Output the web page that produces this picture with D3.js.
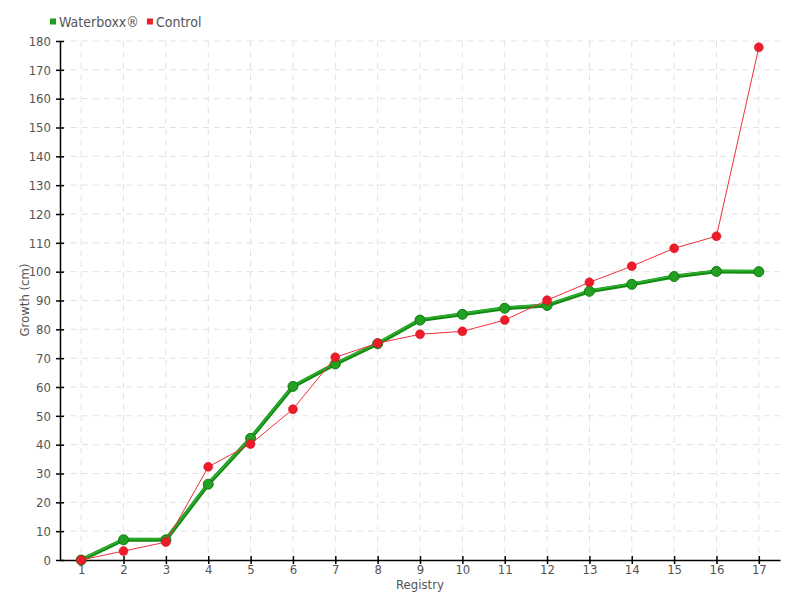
<!DOCTYPE html>
<html><head><meta charset="utf-8">
<script src="https://cdn.jsdelivr.net/npm/d3@7"></script>
<style>
body{margin:0;background:#fff;}
text{font-family:"DejaVu Sans Condensed","Liberation Sans Narrow","Roboto",sans-serif;font-stretch:condensed;}
</style></head>
<body><svg id="c" width="800" height="600"></svg>
<script>
const registry = [1,2,3,4,5,6,7,8,9,10,11,12,13,14,15,16,17];
const waterboxx = [0,7,7,26.3,42.2,60.2,68,75,83.2,85.2,87.3,88.3,93.2,95.6,98.3,100.1,100];
const control = [0,3.1,6.2,32.3,40.2,52.3,70.3,75.2,78.3,79.3,83.2,90.1,96.3,101.9,108.1,112.3,177.8];
const yTicks = [0,10,20,30,40,50,60,70,80,90,100,110,120,130,140,150,160,170,180];
const seriesNames = ["Waterboxx®","Control"];

const svg = d3.select("#c");
const x = d3.scaleLinear().domain([0.5,17.5]).range([60,780]);
const y = d3.scaleLinear().domain([0,180]).range([560,41]);
const green = "#1e9e1e", red = "#ec1c2a";

// grid
svg.append("g").selectAll("line").data(yTicks.slice(1)).join("line")
 .attr("x1",60).attr("x2",780).attr("y1",d=>y(d)).attr("y2",d=>y(d))
 .attr("stroke","#e2e2e2").attr("stroke-dasharray","6,5").attr("stroke-width",1);
svg.append("g").selectAll("line").data(registry).join("line")
 .attr("x1",d=>x(d)).attr("x2",d=>x(d)).attr("y1",41).attr("y2",560)
 .attr("stroke","#e2e2e2").attr("stroke-dasharray","6,5").attr("stroke-width",1);

// axes
const yAxis = d3.axisLeft(y).tickValues(yTicks).tickSize(4).tickPadding(5).tickSizeOuter(0);
const gy = svg.append("g").attr("transform","translate(60,0)").call(yAxis);
gy.selectAll(".tick line").attr("x2",-4).attr("x1",4).attr("stroke","#000").attr("stroke-width",1.5);
gy.select(".domain").attr("stroke","#000").attr("stroke-width",1.5);
gy.selectAll("text").attr("font-size",13).attr("fill","#555");

const xAxis = d3.axisBottom(x).tickValues(registry).tickSize(4).tickPadding(1).tickSizeOuter(0);
const gx = svg.append("g").attr("transform","translate(0,560)").call(xAxis);
gx.selectAll(".tick line").attr("y1",-4).attr("y2",4).attr("stroke","#000").attr("stroke-width",1.5);
gx.select(".domain").attr("stroke","#000").attr("stroke-width",1.5);
gx.selectAll("text").attr("font-size",13).attr("fill","#555");

// axis titles
svg.append("text").attr("x",420).attr("y",589).attr("text-anchor","middle")
 .attr("font-size",13).attr("fill","#555").text("Registry");
svg.append("text").attr("transform","translate(29,300) rotate(-90)").attr("text-anchor","middle")
 .attr("font-size",13).attr("fill","#555").text("Growth (cm)");

// lines
const line = d3.line().x((d,i)=>x(registry[i])).y(d=>y(d));
svg.append("path").datum(waterboxx).attr("d",line).attr("fill","none")
 .attr("stroke","#138a13").attr("stroke-width",4).attr("stroke-linejoin","round");
svg.append("path").datum(waterboxx).attr("d",line).attr("fill","none")
 .attr("stroke","#2fb32f").attr("stroke-width",1.5).attr("transform","translate(0,-0.8)");
svg.append("g").selectAll("circle").data(waterboxx).join("circle")
 .attr("cx",(d,i)=>x(registry[i])).attr("cy",d=>y(d)).attr("r",5)
 .attr("fill","#21a021").attr("stroke","#137a13").attr("stroke-width",1);

svg.append("path").datum(control).attr("d",line).attr("fill","none")
 .attr("stroke","#f0303c").attr("stroke-width",1);
svg.append("g").selectAll("circle").data(control).join("circle")
 .attr("cx",(d,i)=>x(registry[i])).attr("cy",d=>y(d)).attr("r",4.5)
 .attr("fill",red).attr("stroke","#d01020").attr("stroke-width",0.5);

// legend
const leg = svg.append("g");
let lx = 50;
[green,red].forEach((c,i)=>{
  leg.append("rect").attr("x",lx).attr("y",18.5).attr("width",6).attr("height",6).attr("fill",c);
  const t = leg.append("text").attr("x",lx+9).attr("y",26.5).attr("font-size",14).attr("fill","#555").text(seriesNames[i]);
  lx = lx + 9 + t.node().getComputedTextLength() + 8;
});
</script></body></html>
